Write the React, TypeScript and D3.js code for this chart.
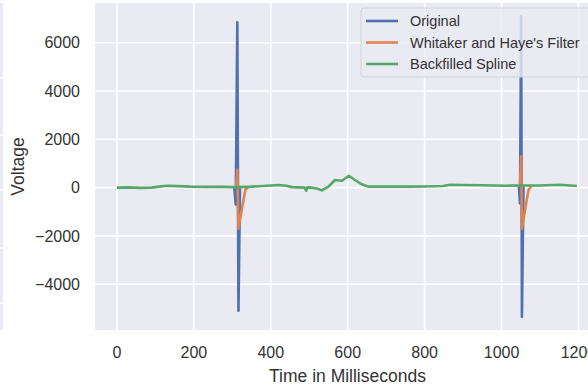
import React from 'react';
import * as d3 from 'd3';

// Backfilled spline (ms, voltage)
const splineTime = [0, 30, 60, 90, 110, 130, 160, 190, 230, 270, 310, 350, 390, 420, 440, 455, 470, 488, 492, 495, 505, 520, 533, 550, 567, 585, 603, 619, 635, 653, 700, 754, 800, 848, 866, 900, 950, 1014, 1060, 1100, 1152, 1196];
const splineVolt = [0, 10, -10, 0, 40, 80, 60, 40, 30, 30, 20, 40, 80, 110, 80, 20, 10, 0, -130, 10, 0, -40, -115, 40, 315, 285, 490, 315, 150, 40, 40, 40, 45, 65, 120, 110, 100, 80, 85, 90, 120, 65];

// Original signal: elsewhere it sits under the spline, so only the spikes are kept (null = gap)
const originalTime = [305, 309, 313, 316, 320, 700, 1045, 1048, 1051, 1053, 1057];
const originalVolt = [20, -700, 6850, -5100, 20, null, 80, -650, 7100, -5350, 80];

// Whitaker and Haye's filter around the spikes
const filterTime = [310, 313, 316, 334, 342, 700, 1048, 1051, 1053, 1070, 1078];
const filterVolt = [20, 750, -1700, -80, 20, null, 80, 1300, -1700, -100, 80];

const xTicks = [0, 200, 400, 600, 800, 1000, 1200];
const yTicks = [-4000, -2000, 0, 2000, 4000, 6000];

const series = [
  { label: 'Original', color: '#4c72b0', t: originalTime, v: originalVolt },
  { label: "Whitaker and Haye's Filter", color: '#dd8452', t: filterTime, v: filterVolt },
  { label: 'Backfilled Spline', color: '#55a868', t: splineTime, v: splineVolt },
];

const W = 588;
const H = 386;
const plot = { left: 95, right: 600, top: 3, bottom: 330 };
const font = '"Liberation Sans", Arial, sans-serif';

export default function App() {
  const x = d3.scaleLinear().domain([-57, 1256]).range([plot.left, plot.right]);
  const y = d3.scaleLinear().domain([-5896, 7644]).range([plot.bottom, plot.top]);

  const line = d3.line<[number, number | null]>()
    .defined(d => d[1] !== null)
    .x(d => x(d[0]))
    .y(d => y(d[1] as number));

  const sliverLines = [78, 135, 190, 248, 303];

  return (
    <svg width={W} height={H} style={{ position: 'fixed', left: 0, top: 0, background: '#fff' }} fontFamily={font}>
      {/* neighbouring panel sliver */}
      <rect x={0} y={plot.top} width={3} height={plot.bottom - plot.top} fill="#eaeaf2" />
      {sliverLines.map(s => (
        <line key={s} x1={0} x2={3} y1={s} y2={s} stroke="#fff" strokeWidth={1.5} />
      ))}

      <rect x={plot.left} y={plot.top} width={plot.right - plot.left} height={plot.bottom - plot.top} fill="#eaeaf2" />
      <clipPath id="clip">
        <rect x={plot.left} y={plot.top} width={plot.right - plot.left} height={plot.bottom - plot.top} />
      </clipPath>

      {yTicks.map(t => (
        <line key={'gy' + t} x1={plot.left} x2={plot.right} y1={y(t)} y2={y(t)} stroke="#fff" strokeWidth={1.6} />
      ))}
      {xTicks.map(t => (
        <line key={'gx' + t} x1={x(t)} x2={x(t)} y1={plot.top} y2={plot.bottom} stroke="#fff" strokeWidth={1.6} />
      ))}

      <g clipPath="url(#clip)">
        {series.map(s => (
          <path
            key={s.label}
            d={line(s.t.map((t, i) => [t, s.v[i]] as [number, number | null])) || ''}
            fill="none"
            stroke={s.color}
            strokeWidth={2.6}
            strokeLinejoin="round"
          />
        ))}
      </g>

      {yTicks.map(t => (
        <text key={'ty' + t} x={80} y={y(t)} dy="0.35em" textAnchor="end" fontSize={16} fill="#333">
          {t < 0 ? '\u2212' + Math.abs(t) : t}
        </text>
      ))}
      {xTicks.map(t => (
        <text key={'tx' + t} x={x(t)} y={358} textAnchor="middle" fontSize={16} fill="#333">
          {t}
        </text>
      ))}

      <text x={(plot.left + plot.right) / 2} y={382} textAnchor="middle" fontSize={17.5} fill="#333">
        Time in Milliseconds
      </text>
      <text transform={`translate(24,${(plot.top + plot.bottom) / 2}) rotate(-90)`} textAnchor="middle" fontSize={17.5} fill="#333">
        Voltage
      </text>

      {/* legend */}
      <g>
        <rect x={361} y={8} width={240} height={69} rx={3} fill="#eaeaf2" fillOpacity={0.8} stroke="#d2d2d8" strokeWidth={1} />
        {series.map((s, i) => (
          <g key={'lg' + s.label} transform={`translate(0,${21 + i * 21.5})`}>
            <line x1={366} x2={398} y1={0} y2={0} stroke={s.color} strokeWidth={2.6} />
            <text x={410} y={0} dy="0.35em" fontSize={14.5} fill="#333">{s.label}</text>
          </g>
        ))}
      </g>
    </svg>
  );
}
